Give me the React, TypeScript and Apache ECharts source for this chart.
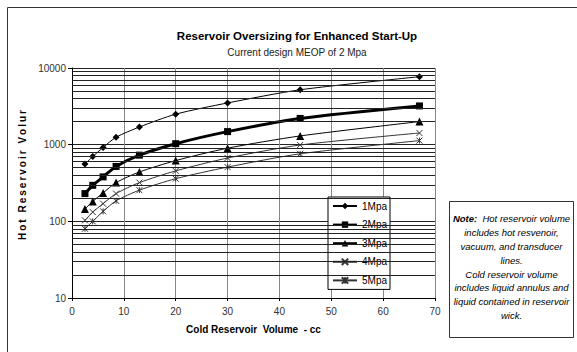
import React, { useEffect, useRef } from "react";
import * as echarts from "echarts";

const coldVolume = [2.5, 4, 6, 8.5, 13, 20, 30, 44, 67];
const seriesNames = ["1Mpa", "2Mpa", "3Mpa", "4Mpa", "5Mpa"];
const mpa1 = [560, 700, 920, 1250, 1700, 2500, 3500, 5200, 7700];
const mpa2 = [230, 295, 380, 520, 730, 1030, 1480, 2200, 3200];
const mpa3 = [145, 182, 235, 320, 440, 620, 900, 1300, 2000];
const mpa4 = [103, 132, 170, 230, 320, 455, 670, 990, 1420];
const mpa5 = [80, 100, 135, 185, 255, 360, 510, 760, 1130];
const minorGridValues = [20, 30, 40, 50, 60, 70, 80, 90, 200, 300, 400, 500, 600, 700, 800, 900, 2000, 3000, 4000, 5000, 6000, 7000, 8000, 9000];
const xTicks = { min: 0, max: 70, interval: 10 };
const yRange = { min: 10, max: 10000 };

const noteText =
  "{b|Note:}  Hot reservoir volume\nincludes hot resvenoir,\nvacuum, and transducer\nlines.\nCold reservoir volume\nincludes liquid annulus and\nliquid contained in reservoir\nwick.";

const FONT = "Liberation Sans, Arial, sans-serif";
const yName = "Hot Reservoir Volur".split("").join("\u2009");

export default function App() {
  const ref = useRef<HTMLDivElement>(null);
  useEffect(() => {
    if (!ref.current) return;
    const chart = echarts.init(ref.current, undefined, { renderer: "svg" });
    const pair = (ys: number[]) => coldVolume.map((x, i) => [x, ys[i]]);
    const xSym = "path://M0,0L10,10M10,0L0,10";
    const starSym = "path://M0,0L10,10M10,0L0,10M5,0L5,10";
    const thin = { color: "#000", width: 1 };
    const option: any = {
      animation: false,
      backgroundColor: "#fff",
      textStyle: { fontFamily: FONT },
      title: {
        text: "Reservoir Oversizing for Enhanced Start-Up",
        subtext: "Current design MEOP of 2 Mpa",
        left: 292,
        textAlign: "center",
        top: 25,
        itemGap: 5,
        textStyle: { fontFamily: FONT, fontSize: 11.5, fontWeight: "bold", color: "#000" },
        subtextStyle: { fontFamily: FONT, fontSize: 10, color: "#222" },
      },
      grid: { left: 72, right: 142, top: 68, bottom: 54, containLabel: false },
      legend: {
        data: seriesNames,
        orient: "vertical",
        left: 328,
        top: 197,
        padding: [4, 3, 4, 4],
        itemWidth: 24,
        itemHeight: 8,
        itemGap: 8.6,
        backgroundColor: "#fff",
        borderColor: "#000",
        borderWidth: 1,
        borderRadius: 0,
        textStyle: { fontFamily: FONT, fontSize: 10, color: "#000" },
      },
      xAxis: {
        type: "value",
        min: xTicks.min,
        max: xTicks.max,
        interval: xTicks.interval,
        name: "Cold Reservoir  Volume  - cc",
        nameLocation: "middle",
        nameGap: 26,
        nameTextStyle: { fontFamily: FONT, fontSize: 10, fontWeight: "bold", color: "#000" },
        axisLine: { lineStyle: { color: "#000", width: 1 } },
        axisTick: { show: true, length: 3, lineStyle: { color: "#000" } },
        axisLabel: { fontFamily: FONT, fontSize: 10, color: "#333", margin: 8 },
        splitLine: { show: true, lineStyle: { color: "#888", width: 1 } },
      },
      yAxis: {
        type: "log",
        logBase: 10,
        min: yRange.min,
        max: yRange.max,
        name: yName,
        nameLocation: "middle",
        nameGap: 31,
        nameTextStyle: { fontFamily: FONT, fontSize: 10, fontWeight: "bold", color: "#000", padding: [0, 0, 0, 16] },
        axisLine: { show: true, lineStyle: { color: "#000", width: 1 } },
        axisTick: { show: true, length: 4, lineStyle: { color: "#000" } },
        axisLabel: { fontFamily: FONT, fontSize: 10, color: "#333", margin: 6, formatter: (v: number) => String(v) },
        splitLine: { show: true, lineStyle: { color: "#222", width: 1 } },
      },
      series: [
        {
          name: "gridMinor",
          type: "line",
          data: [],
          silent: true,
          markLine: {
            silent: true,
            symbol: ["none", "none"],
            label: { show: false },
            lineStyle: { color: "#222", width: 1, type: "solid" },
            data: minorGridValues.map((v) => ({ yAxis: v })),
            animation: false,
          },
          z: 1,
        },
        {
          name: "1Mpa",
          type: "line",
          data: pair(mpa1),
          smooth: 0.25,
          symbol: "diamond",
          symbolSize: 7,
          lineStyle: thin,
          itemStyle: { color: "#000" },
          z: 3,
        },
        {
          name: "2Mpa",
          type: "line",
          data: pair(mpa2),
          smooth: 0.25,
          symbol: "rect",
          symbolSize: 7,
          lineStyle: { color: "#000", width: 3 },
          itemStyle: { color: "#000" },
          z: 3,
        },
        {
          name: "3Mpa",
          type: "line",
          data: pair(mpa3),
          smooth: 0.25,
          symbol: "triangle",
          symbolSize: 8,
          lineStyle: thin,
          itemStyle: { color: "#000" },
          z: 3,
        },
        {
          name: "4Mpa",
          type: "line",
          data: pair(mpa4),
          smooth: 0.25,
          symbol: xSym,
          symbolSize: 6,
          lineStyle: { color: "#333", width: 1 },
          itemStyle: { color: "#333", borderColor: "#333", borderWidth: 1 },
          z: 3,
        },
        {
          name: "5Mpa",
          type: "line",
          data: pair(mpa5),
          smooth: 0.25,
          symbol: starSym,
          symbolSize: 6,
          lineStyle: { color: "#333", width: 1 },
          itemStyle: { color: "#333", borderColor: "#333", borderWidth: 1 },
          z: 3,
        },
      ],
      graphic: [
        {
          type: "line",
          shape: { x1: 7.5, y1: 7.5, x2: 577, y2: 7.5 },
          style: { stroke: "#333", lineWidth: 1 },
          silent: true,
          z: 10,
        },
        {
          type: "line",
          shape: { x1: 7.5, y1: 7.5, x2: 7.5, y2: 352 },
          style: { stroke: "#333", lineWidth: 1 },
          silent: true,
          z: 10,
        },
        {
          type: "group",
          left: 449,
          top: 201,
          z: 10,
          children: [
            {
              type: "rect",
              shape: { x: 0.5, y: 0.5, width: 124, height: 136 },
              style: { fill: "#fff", stroke: "#333", lineWidth: 1 },
            },
            {
              type: "text",
              x: 62.5,
              y: 11,
              style: {
                text: noteText,
                align: "center",
                verticalAlign: "top",
                font: "italic 9.5px " + FONT,
                fill: "#000",
                lineHeight: 13.8,
                rich: {
                  b: { font: "italic bold 9.5px " + FONT, fill: "#000", lineHeight: 13.8 },
                },
              },
            },
          ],
        },
      ],
    };
    chart.setOption(option);
    return () => chart.dispose();
  }, []);
  return <div ref={ref} style={{ position: "absolute", left: 0, top: 0, width: 577, height: 352 }} />;
}
